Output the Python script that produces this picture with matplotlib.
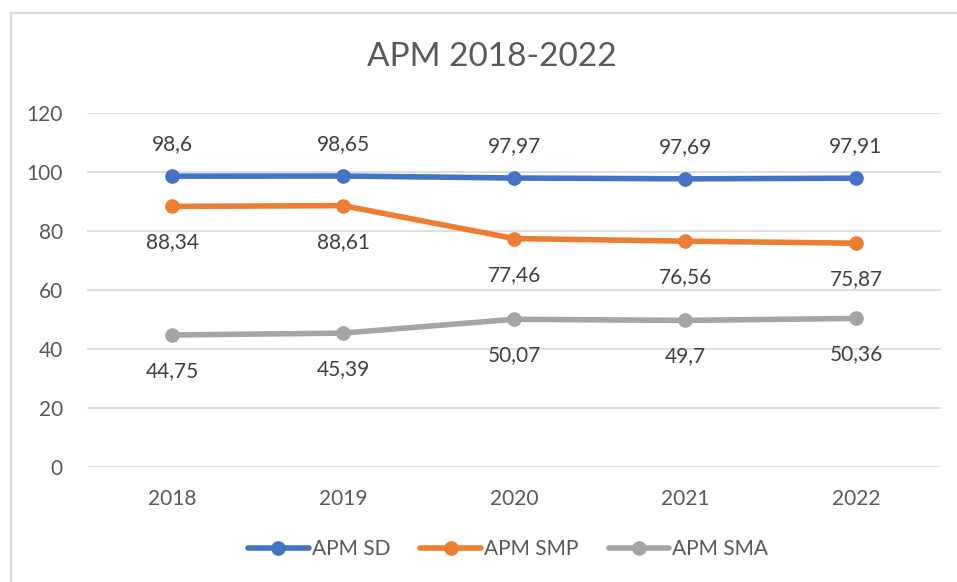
import matplotlib
matplotlib.use("Agg")
import matplotlib.pyplot as plt
from matplotlib.lines import Line2D

years = ["2018", "2019", "2020", "2021", "2022"]
apm_sd = [98.6, 98.65, 97.97, 97.69, 97.91]
apm_smp = [88.34, 88.61, 77.46, 76.56, 75.87]
apm_sma = [44.75, 45.39, 50.07, 49.7, 50.36]
series_names = ["APM SD", "APM SMP", "APM SMA"]
y_ticks = [0, 20, 40, 60, 80, 100, 120]

colors = ["#4472C4", "#ED7D31", "#A5A5A5"]
label_offsets = [23, -26, -26]  # points (positive above)

plt.rcParams['font.family'] = ['Lato', 'DejaVu Sans']

fig = plt.figure(figsize=(9.57, 5.82), dpi=100)
ax = fig.add_axes([0.0904, 0.1976, 0.8934, 0.6082])

x = list(range(len(years)))
for vals, name, c, off in zip([apm_sd, apm_smp, apm_sma], series_names, colors, label_offsets):
    ax.plot(x, vals, color=c, lw=4, marker='o', ms=9.5, label=name,
            solid_capstyle='round', zorder=3)
    for xi, v in zip(x, vals):
        txt = ("%g" % v).replace('.', ',')
        ax.annotate(txt, (xi, v), xytext=(0, off), textcoords='offset points',
                    ha='center', va='center', fontsize=15, color='#404040')

ax.set_xlim(-0.5, len(years) - 0.5)
ax.set_ylim(0, 120)
ax.set_yticks(y_ticks)
ax.set_xticks(x)
ax.set_xticklabels(years)
ax.grid(axis='y', color='#D9D9D9', lw=1.2)
ax.set_axisbelow(True)
for s in ax.spines.values():
    s.set_visible(False)
ax.tick_params(axis='both', length=0, labelsize=15, labelcolor='#595959')
ax.tick_params(axis='y', pad=17)
ax.tick_params(axis='x', pad=16)

fig.text(0.514, 1 - 57 / 582, "APM 2018-2022", ha='center', va='center',
         fontsize=24, color='#595959')

leg = fig.legend(loc='center', bbox_to_anchor=(0.531, 1 - 549 / 582), ncol=3,
                 frameon=False, fontsize=15, handlelength=2.9, handletextpad=0.15,
                 columnspacing=1.45, labelcolor='#595959')

# chart border (left and top edges visible)
fig.add_artist(Line2D([11 / 957, 11 / 957], [0, 1 - 13 / 582], color='#D9D9D9',
                      lw=1.5, transform=fig.transFigure))
fig.add_artist(Line2D([11 / 957, 1], [1 - 13 / 582, 1 - 13 / 582], color='#D9D9D9',
                      lw=1.5, transform=fig.transFigure))

fig.savefig("out.png", dpi=100)
